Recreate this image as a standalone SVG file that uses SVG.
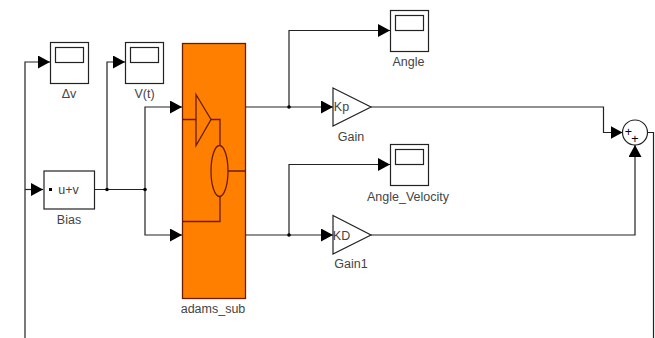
<svg xmlns="http://www.w3.org/2000/svg" width="655" height="338" viewBox="0 0 655 338">
<style>
.b{fill:#fff;stroke:#222;stroke-width:1.2}
.i{fill:none;stroke:#222;stroke-width:1.2}
.o{fill:none;stroke:#6b1c00;stroke-width:1.3}
.w{fill:none;stroke:#222;stroke-width:1.2}
text{font-family:"Liberation Sans",Arial,sans-serif;font-size:12.5px;fill:#444;text-anchor:middle}
</style>
<defs>
<marker id="a" markerUnits="userSpaceOnUse" markerWidth="13" markerHeight="13" refX="12" refY="6.5" orient="auto"><path d="M0 0L12 6.5L0 13Z" fill="#000"/></marker>
<symbol id="scope" overflow="visible"><rect class="b" x="0.5" y="0.5" width="38" height="41"/><rect class="i" x="5.5" y="5.5" width="28" height="15"/></symbol>
</defs>
<rect width="655" height="338" fill="#fff"/>
<g id="connectors">
<path class="w" d="M25 338V62H50" marker-end="url(#a)"/>
<path class="w" d="M25 189.500H43" marker-end="url(#a)"/>
<path class="w" d="M94 189.500H145"/>
<path class="w" d="M107 189.500V62H125" marker-end="url(#a)"/>
<path class="w" d="M145 189.500V107H182" marker-end="url(#a)"/>
<path class="w" d="M145 189.500V235H182" marker-end="url(#a)"/>
<path class="w" d="M246 107H333" marker-end="url(#a)"/>
<path class="w" d="M289 107V30.500H390" marker-end="url(#a)"/>
<path class="w" d="M246 235H333" marker-end="url(#a)"/>
<path class="w" d="M289 235V164.500H390" marker-end="url(#a)"/>
<path class="w" d="M371 107H603.500V132.500H622.500" marker-end="url(#a)"/>
<path class="w" d="M371 235H635V145" marker-end="url(#a)"/>
<path class="w" d="M647.500 132.500H653.500V338"/>
<circle cx="107" cy="189.500" r="1.800" fill="#000"/>
<circle cx="145" cy="189.500" r="1.800" fill="#000"/>
<circle cx="289" cy="107" r="1.800" fill="#000"/>
<circle cx="289" cy="235" r="1.800" fill="#000"/>
</g>
<g id="scope-dv"><use href="#scope" x="50" y="42"/><text x="69" y="98">Δv</text></g>
<g id="scope-vt"><use href="#scope" x="125" y="42"/><text x="144.500" y="98">V(t)</text></g>
<g id="bias"><rect class="b" x="44" y="171" width="50.500" height="38"/><rect x="49" y="188" width="3" height="3" fill="#000"/><text x="68.500" y="193.500">u+v</text><text x="69" y="223.500">Bias</text></g>
<g id="adams_sub">
<rect x="182.500" y="43.500" width="63" height="255" fill="#ff8000" stroke="#6b1c00" stroke-width="1.300"/>
<path class="o" d="M196 94.500L211 119.500L196 145.500Z"/>
<ellipse class="o" cx="219.500" cy="171" rx="8.500" ry="25.500"/>
<path class="o" d="M182.500 119.500H196M211 119.500H220V145.500M228 171H245.500M220 196.500V221.500H182.500"/>
<text x="213" y="313">adams_sub</text>
</g>
<g id="scope-angle"><use href="#scope" x="390" y="10"/><text x="408.500" y="66">Angle</text></g>
<g id="gain"><path class="b" d="M333 88L371 107L333 126Z"/><text x="341.500" y="111">Kp</text><text x="351" y="141">Gain</text></g>
<g id="scope-angle-velocity"><use href="#scope" x="390" y="144"/><text x="408" y="200.500">Angle_Velocity</text></g>
<g id="gain1"><path class="b" d="M333 215.500L371 235L333 254Z"/><text x="341.500" y="239.500">KD</text><text x="351" y="268">Gain1</text></g>
<g id="sum"><circle class="b" cx="635" cy="132.500" r="12.500"/><text x="628.500" y="136" style="fill:#000">+</text><text x="635" y="143" style="fill:#000">+</text></g>
</svg>
